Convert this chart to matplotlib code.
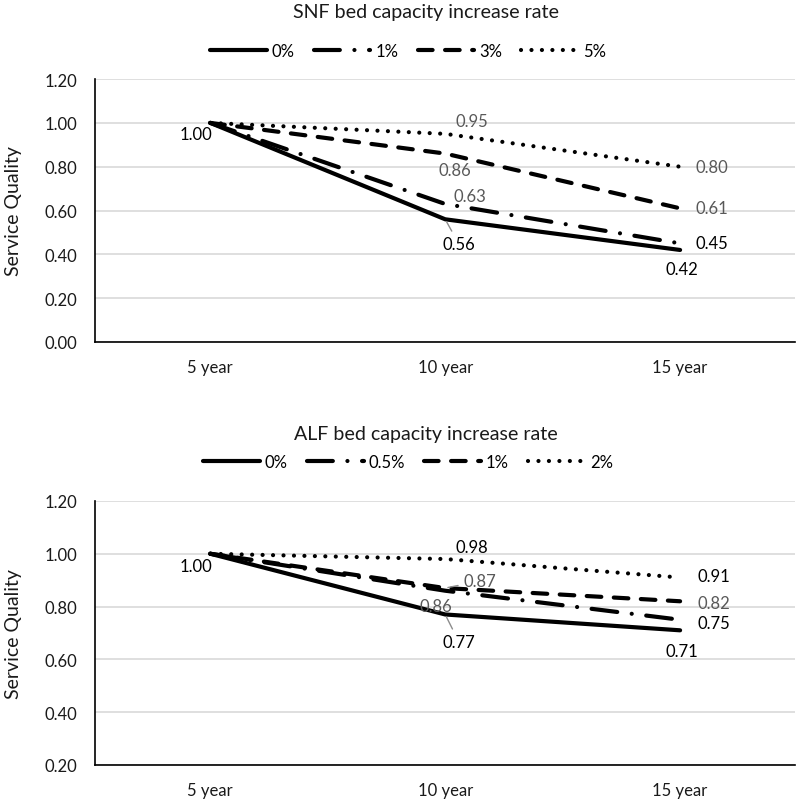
import matplotlib.pyplot as plt

plt.rcParams['font.family'] = ['Lato', 'DejaVu Sans']
plt.rcParams['font.size'] = 12

# categories
years = ["5 year", "10 year", "15 year"]

# SNF bed capacity increase rate
snf_rates = ["0%", "1%", "3%", "5%"]
snf_0 = [1.00, 0.56, 0.42]
snf_1 = [1.00, 0.63, 0.45]
snf_3 = [1.00, 0.86, 0.61]
snf_5 = [1.00, 0.95, 0.80]

# ALF bed capacity increase rate
alf_rates = ["0%", "0.5%", "1%", "2%"]
alf_0 = [1.00, 0.77, 0.71]
alf_05 = [1.00, 0.86, 0.75]
alf_1 = [1.00, 0.87, 0.82]
alf_2 = [1.00, 0.98, 0.91]

# line styles, one per series
styles = ['-', (0, (6.2, 3.5, 0.01, 3.5)), (0, (3.5, 3)), (0, (0.01, 2.5))]
grey = '#595959'

# label placement per series and point: (dx, dy in points, colour); None = no label
snf_lbl = [
    [(-10, -8, 'k'), (10, -18, 'k'), (1, -14, 'k')],
    [None, (18, 6, grey), (23, 0, 'k')],
    [None, (7, -12, grey), (23, 0, grey)],
    [None, (19, 9, grey), (23, 0, grey)],
]
alf_lbl = [
    [(-10, -9, 'k'), (10, -20, 'k'), (1, -15, 'k')],
    [None, (-7, -11, grey), (24, -2, 'k')],
    [None, (25, 5, grey), (24, -1, grey)],
    [None, (19, 9, 'k'), (24, 1, 'k')],
]
leaders = {(0, 0, 1), (1, 0, 1), (1, 2, 1)}


def draw(ax, idx, series, rates, labels, title, ylim, ypos):
    for k, (vals, name, ls) in enumerate(zip(series, rates, styles)):
        ax.plot(years, vals, color='black', lw=3, linestyle=ls, label=name,
                dash_capstyle='round', solid_capstyle='round',
                solid_joinstyle='round')
        for j, v in enumerate(vals):
            spec = labels[k][j]
            if spec is None:
                continue
            dx, dy, c = spec
            ap = None
            if (idx, k, j) in leaders:
                ap = dict(arrowstyle='-', color='#8c8c8c', lw=1, shrinkA=2, shrinkB=2)
            ax.annotate(f"{v:.2f}", (j, v), xytext=(dx, dy),
                        textcoords='offset points', ha='center', va='center',
                        color=c, fontsize=12, arrowprops=ap)
    ax.set_xlim(-0.49, 2.49)
    ax.set_ylim(*ylim)
    ax.set_yticks([t / 100 for t in range(int(ylim[0] * 100), int(ylim[1] * 100) + 1, 20)])
    ax.yaxis.set_major_formatter(plt.FormatStrFormatter('%.2f'))
    ax.grid(axis='y', color='#d9d9d9', lw=1.2)
    ax.set_axisbelow(True)
    ax.tick_params(length=0, labelsize=12, colors='#1a1a1a')
    ax.tick_params(axis='y', pad=13)
    ax.tick_params(axis='x', pad=12)
    for s in ['top', 'right']:
        ax.spines[s].set_visible(False)
    for s in ['left', 'bottom']:
        ax.spines[s].set_color('black')
        ax.spines[s].set_linewidth(1.2)
    ax.set_ylabel("Service Quality", fontsize=14, color='#1a1a1a')
    ax.yaxis.set_label_coords(-0.104, 0.5)
    fig.text(0.532, ypos[0], title, ha='center', va='center', fontsize=14.1,
             color='#1a1a1a')
    fig.legend(handles=ax.get_lines(), loc='center', bbox_to_anchor=(0.51, ypos[1]),
               ncol=4, frameon=False, fontsize=12, handlelength=3.4,
               handletextpad=0.3, columnspacing=1.15)


fig = plt.figure(figsize=(8, 8.04), dpi=100)
ax1 = fig.add_axes([0.119, 0.5734, 0.875, 0.327])
ax2 = fig.add_axes([0.119, 0.0473, 0.875, 0.3284])

draw(ax1, 0, [snf_0, snf_1, snf_3, snf_5], snf_rates, snf_lbl,
     "SNF bed capacity increase rate", (0, 1.2), (0.984, 0.935))
draw(ax2, 1, [alf_0, alf_05, alf_1, alf_2], alf_rates, alf_lbl,
     "ALF bed capacity increase rate", (0.2, 1.2), (0.459, 0.424))

fig.savefig("out.png", dpi=100)
